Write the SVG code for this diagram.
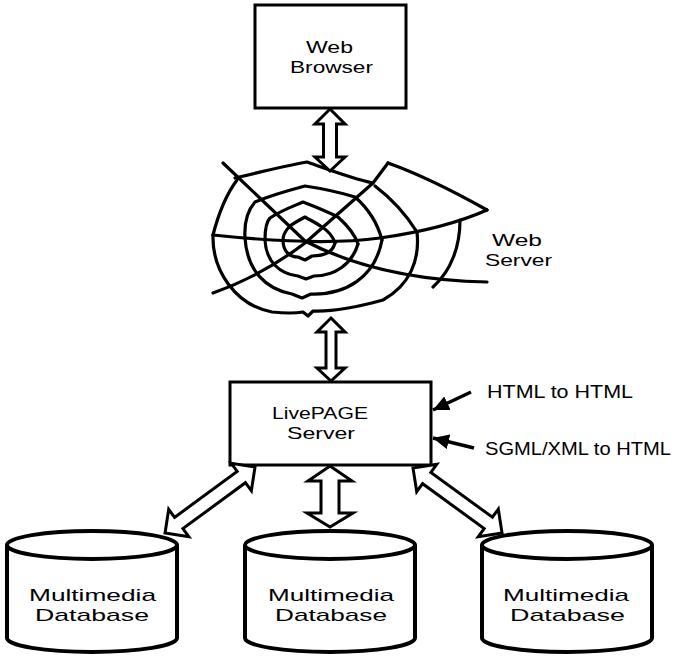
<svg xmlns="http://www.w3.org/2000/svg" width="694" height="659" viewBox="0 0 694 659">
  <style>
    .box { fill: #fff; stroke: #000; stroke-width: 3; }
    .cyl { fill: #fff; stroke: #000; stroke-width: 4; }
    .web { fill: none; stroke: #000; stroke-width: 3.2; stroke-linecap: round; stroke-linejoin: round; }
    .dbl { fill: #fff; stroke: #000; stroke-width: 3; stroke-linejoin: miter; }
    .ptr { fill: none; stroke: #000; stroke-width: 3.5; }
    .lbl { font-family: "Liberation Sans", "DejaVu Sans", sans-serif; font-size: 17px; fill: #000; }
    .side { font-family: "Liberation Sans", "DejaVu Sans", sans-serif; font-size: 18px; fill: #000; }
  </style>
  <defs>
    <marker id="head" markerUnits="userSpaceOnUse" markerWidth="17" markerHeight="15" refX="16" refY="7.5" orient="auto">
      <path d="M0,0 L16,7.5 L0,15 Z" fill="#000"/>
    </marker>
  </defs>

  <rect width="694" height="659" fill="#fff"/>

  <!-- Web browser -->
  <g id="browser">
    <rect class="box" x="255" y="5" width="151" height="103"/>
    <text class="lbl" x="306" y="53" textLength="47" lengthAdjust="spacingAndGlyphs">Web</text>
    <text class="lbl" x="290" y="73" textLength="83" lengthAdjust="spacingAndGlyphs">Browser</text>
  </g>

  <!-- Web server drawn as a spider web -->
  <g id="webserver">
    <g class="web">
      <!-- radial threads -->
      <path d="M223,163 L305,241 Q380,280 487,282"/>
      <path d="M213,293 C250,280 280,262 305,243 L373,183 L388,163"/>
      <path d="M213,235 C260,240 330,245 380,238 S460,222 487,210"/>
      <!-- outer frame -->
      <path d="M235,178 C260,172 290,165 307,162 C330,170 350,178 373,183"/>
      <path d="M237,180 Q222,200 213,235"/>
      <path d="M388,163 Q430,178 487,210"/>
      <path d="M375,186 Q400,205 417,232"/>
      <path d="M460,220 C460,245 452,270 433,287"/>
      <path d="M213,235 C212,270 235,305 272,312 Q292,314 303,312 L308,316 L313,311 Q340,312 383,300 C410,285 420,260 417,232"/>
      <!-- spiral rings, upper half -->
      <path d="M283,240 C283,232 290,225 296,222 L305,217 C312,221 318,224 322,227 C330,232 333,237 335,243"/>
      <path d="M265,240 C265,230 266,222 270,218 C282,210 294,206 303,202 C316,207 328,212 338,217 C348,226 355,235 358,244"/>
      <path d="M245,238 C244,222 248,210 255,202 C272,195 290,190 305,186 C325,189 342,193 355,197 C370,210 378,225 382,240"/>
      <!-- spiral rings, lower half -->
      <path d="M283,240 C283,252 290,257 298,257 L305,260 L312,256 C325,256 333,251 335,243"/>
      <path d="M265,240 C266,262 280,274 298,276 L306,279 L314,276 C335,276 352,264 358,244"/>
      <path d="M245,238 C247,270 265,289 292,294 L302,298 L311,294 C345,295 375,278 382,240"/>
    </g>
    <text class="lbl" x="492" y="246" textLength="50" lengthAdjust="spacingAndGlyphs">Web</text>
    <text class="lbl" x="485" y="266" textLength="67" lengthAdjust="spacingAndGlyphs">Server</text>
  </g>

  <!-- LivePAGE server -->
  <g id="livepage">
    <rect class="box" x="230" y="382" width="201" height="83"/>
    <text class="lbl" x="272" y="419" textLength="96" lengthAdjust="spacingAndGlyphs">LivePAGE</text>
    <text class="lbl" x="287" y="439" textLength="68" lengthAdjust="spacingAndGlyphs">Server</text>
  </g>

  <!-- Databases -->
  <g id="db-left">
    <path class="cyl" d="M7,545 L7,638 A85,14 0 0 0 177,638 L177,545"/>
    <ellipse class="cyl" cx="92" cy="545" rx="85" ry="14"/>
    <text class="lbl" x="29" y="601" textLength="127" lengthAdjust="spacingAndGlyphs">Multimedia</text>
    <text class="lbl" x="35" y="621" textLength="114" lengthAdjust="spacingAndGlyphs">Database</text>
  </g>
  <g id="db-middle">
    <path class="cyl" d="M245,545 L245,638 A85,14 0 0 0 415,638 L415,545"/>
    <ellipse class="cyl" cx="330" cy="545" rx="85" ry="14"/>
    <text class="lbl" x="268" y="601" textLength="126" lengthAdjust="spacingAndGlyphs">Multimedia</text>
    <text class="lbl" x="275" y="621" textLength="112" lengthAdjust="spacingAndGlyphs">Database</text>
  </g>
  <g id="db-right">
    <path class="cyl" d="M482,545 L482,638 A85,14 0 0 0 652,638 L652,545"/>
    <ellipse class="cyl" cx="567" cy="545" rx="85" ry="14"/>
    <text class="lbl" x="503" y="601" textLength="126" lengthAdjust="spacingAndGlyphs">Multimedia</text>
    <text class="lbl" x="510" y="621" textLength="115" lengthAdjust="spacingAndGlyphs">Database</text>
  </g>

  <!-- Conversion notes -->
  <g id="notes">
    <text class="side" x="487" y="398" textLength="146" lengthAdjust="spacingAndGlyphs">HTML to HTML</text>
    <text class="side" x="485" y="455" textLength="186" lengthAdjust="spacingAndGlyphs">SGML/XML to HTML</text>
  </g>

  <!-- Connectors -->
  <g id="connectors">
    <!-- browser <-> web -->
    <path class="dbl" d="M330,109 L345,124 L336.5,124 L336.5,157 L345,157 L330,171 L315,157 L323.5,157 L323.5,124 L315,124 Z"/>
    <!-- web <-> LivePAGE -->
    <path class="dbl" d="M331,318 L345,332 L336,332 L336,368 L345,368 L331,381 L317,368 L326,368 L326,332 L317,332 Z"/>
    <!-- LivePAGE <-> middle database -->
    <path class="dbl" d="M330,466 L352,481 L339,481 L339,513 L353,513 L330,527 L307,513 L321,513 L321,481 L308,481 Z"/>
    <!-- LivePAGE <-> left database -->
    <path class="dbl" transform="translate(255,467) rotate(53.7)" d="M0,0 L17,17 L7,17 L7,94.6 L17,94.6 L0,111.6 L-17,94.6 L-7,94.6 L-7,17 L-17,17 Z"/>
    <!-- LivePAGE <-> right database -->
    <path class="dbl" transform="translate(413,468) rotate(-53.9)" d="M0,0 L17,17 L7,17 L7,93.2 L17,93.2 L0,110.2 L-17,93.2 L-7,93.2 L-7,17 L-17,17 Z"/>
    <!-- note pointers -->
    <line class="ptr" x1="471" y1="392" x2="433" y2="410" marker-end="url(#head)"/>
    <line class="ptr" x1="474" y1="448" x2="433" y2="438" marker-end="url(#head)"/>
  </g>
</svg>
